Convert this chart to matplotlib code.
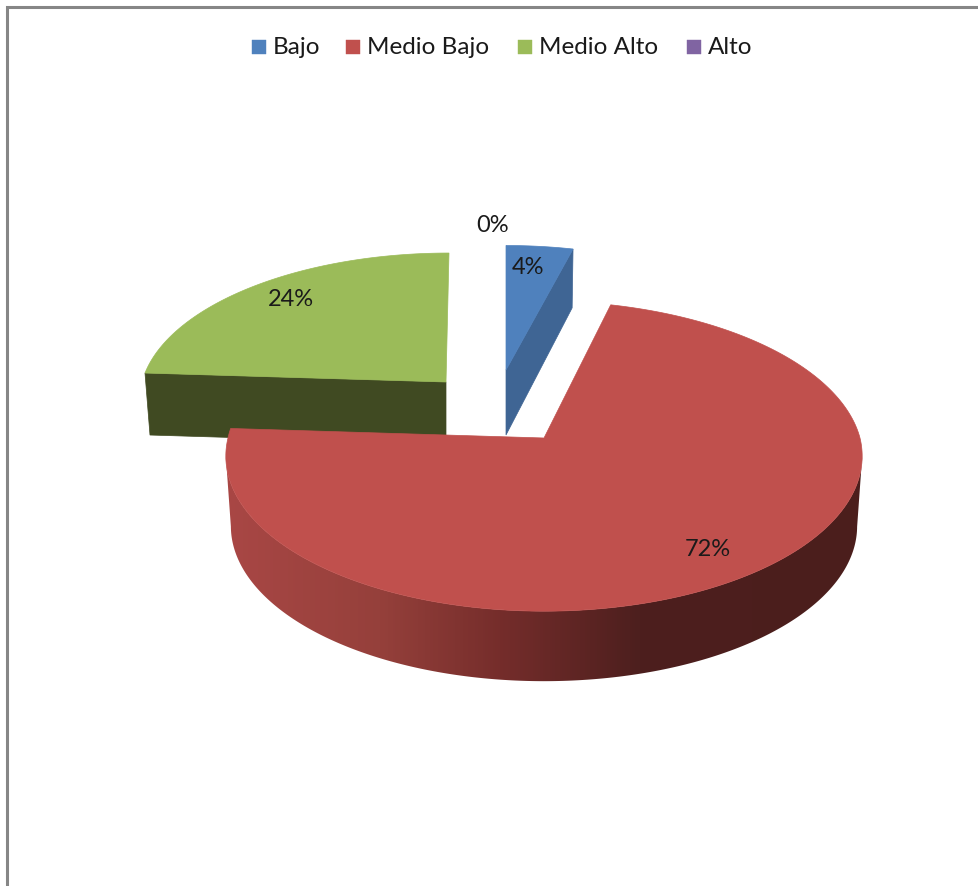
import numpy as np
import matplotlib
matplotlib.use("Agg")
import matplotlib.pyplot as plt
from matplotlib.patches import Polygon, Rectangle
from matplotlib.colors import to_rgb, LinearSegmentedColormap

categories = ["Bajo", "Medio Bajo", "Medio Alto", "Alto"]
values = [4, 72, 24, 0]
labels = ["4%", "72%", "24%", "0%"]
colors = ["#4F81BD", "#C0504D", "#9BBB59", "#8064A2"]

plt.rcParams["font.family"] = ["Lato", "DejaVu Sans"]
W, H = 979, 886
fig = plt.figure(figsize=(W / 100, H / 100), dpi=100, facecolor="white")
ax = fig.add_axes([0, 0, 1, 1])

K = 0.1165


def rim(t_deg, apex, a, b, skew=0.0):
    t = np.radians(np.atleast_1d(t_deg))
    X, Y = np.sin(t), np.cos(t)
    s = 1 + K * Y
    return np.column_stack([apex[0] + a * X / s + skew * np.clip(Y, 0, 1),
                            apex[1] - b * Y / s])


# slice sweep angles (clockwise from the back of the pie)
edges = np.concatenate([[0], np.cumsum(values)]) * 3.6
sweep = {c: (edges[i], edges[i + 1]) for i, c in enumerate(categories)}


def arc(cat, n=200):
    return np.linspace(sweep[cat][0], sweep[cat][1], n)


# --- frame
ax.plot([7.5, 7.5, W], [H, 7, 7], color="#868686", lw=2.2, solid_joinstyle="miter", zorder=1)

# --- Medio Alto
ap = (446, 382)
top = rim(arc("Medio Alto"), ap, 304, 144, 3)
d = 62
ax.add_patch(Polygon([top[0], ap, (ap[0], ap[1] + d), (top[0][0] + 5, top[0][1] + d)],
                     fc="#404A22", ec="#404A22", lw=0.5, zorder=2))
ax.add_patch(Polygon(np.vstack([[ap], top]), fc=colors[2], ec=colors[2], lw=0.5, zorder=3))

# --- Bajo
ap = (506, 370)
top = rim(arc("Bajo"), ap, 300, 139)
low = rim(sweep["Bajo"][1], (506, 435), 296, 146)[0]
ax.add_patch(Polygon([top[-1], ap, (506, 435), low], fc="#3F6594", ec="#3F6594", lw=0.5, zorder=2))
ax.add_patch(Polygon(np.vstack([[ap], top]), fc=colors[0], ec=colors[0], lw=0.5, zorder=3))

# --- Medio Bajo
ap = (544, 438)
t = arc("Medio Bajo", 400)
top = rim(t, ap, 316, 153, -4)
bot = rim(t, (ap[0], ap[1] + 70), 311, 153, -4)
i0, i1 = int(np.argmax(top[:, 0])), int(np.argmin(top[:, 0]))
j0, j1 = int(np.argmax(bot[:, 0])), int(np.argmin(bot[:, 0]))
x0, x1 = 225, 865
stops = [(230, "#A94745"), (380, "#95403B"), (500, "#752D2B"), (640, "#4D1F1E"), (865, "#4B1E1C")]
cmap = LinearSegmentedColormap.from_list(
    "wall", [(max(0.0, (x - x0) / (x1 - x0)), to_rgb(c)) for x, c in [(x0, stops[0][1])] + stops[1:]])
wall_poly = Polygon(np.vstack([top[i0:i1 + 1], bot[j0:j1 + 1][::-1]]), closed=True,
                    fc="none", ec="none", transform=ax.transData)
ax.add_patch(wall_poly)
im = ax.imshow(np.linspace(0, 1, 640)[None, :], cmap=cmap, vmin=0, vmax=1, aspect="auto",
               extent=(x0, x1, 700, 400), zorder=4, interpolation="bilinear")
im.set_clip_path(wall_poly)
ax.add_patch(Polygon(np.vstack([[ap], top]), fc=colors[1], ec=colors[1], lw=0.5, zorder=5))

ax.set_xlim(0, W)
ax.set_ylim(H, 0)
ax.axis("off")

# --- data labels
label_pos = [(528, 267), (708, 549), (291, 300), (493, 225)]
for txt, (x, y) in zip(labels, label_pos):
    ax.text(x, y, txt, ha="center", va="center", fontsize=17, color="#1a1a1a", zorder=6)

# --- legend
leg_x = [252, 346, 518, 687]
for name, col, x in zip(categories, colors, leg_x):
    ax.add_patch(Rectangle((x, 40), 14, 14, fc=col, ec=col, lw=0.3, zorder=6))
    ax.text(x + 21, 47, name, ha="left", va="center", fontsize=17.5, color="#1a1a1a", zorder=6)

fig.savefig("out.png", dpi=100, facecolor="white")
